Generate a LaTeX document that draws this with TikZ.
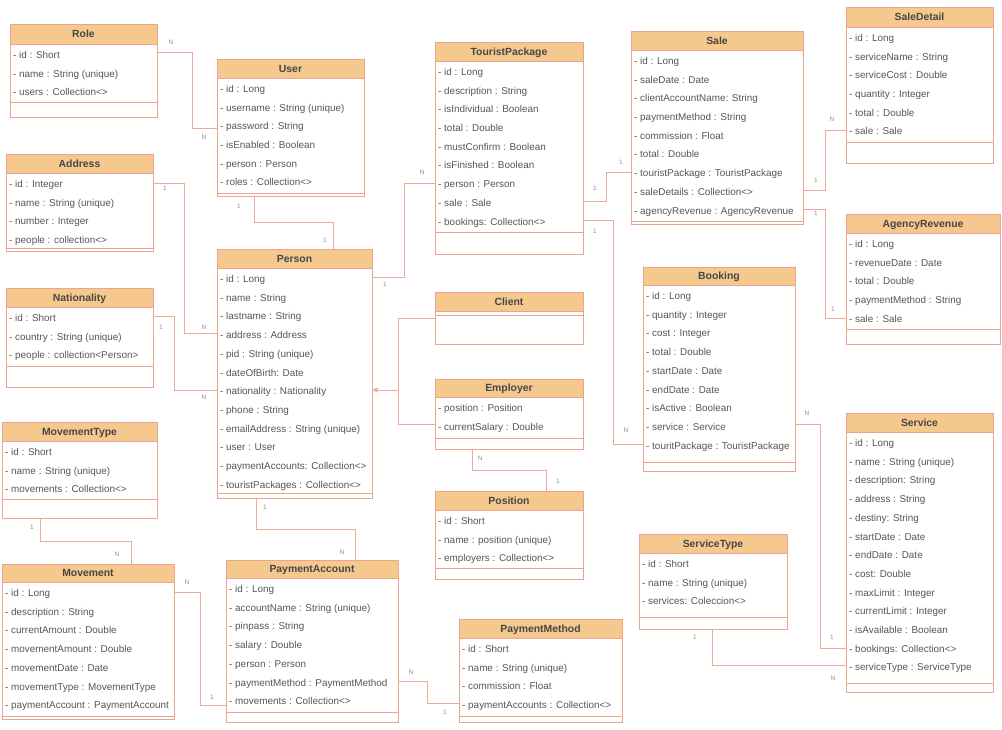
\documentclass[tikz,border=0pt]{standalone}
\usepackage{fontspec}
\setmainfont{Liberation Sans}
\usetikzlibrary{fit,arrows.meta}
\definecolor{hdr}{RGB}{245,201,142}
\definecolor{bord}{RGB}{236,164,144}
\definecolor{lnc}{RGB}{238,170,152}
\definecolor{txt}{RGB}{85,85,85}
\definecolor{ttl}{RGB}{70,70,70}
\definecolor{lbl}{RGB}{140,140,140}
\tikzset{
  row/.style={anchor=base west, inner sep=0pt, text=txt, font=\fontsize{9.9}{11}\selectfont},
  title/.style={anchor=base, inner sep=0pt, text=ttl, font=\fontsize{10.4}{12}\selectfont\bfseries},
  conn/.style={draw=lnc, line width=0.9pt},
  mult/.style={inner sep=0pt, text=lbl, font=\fontsize{6.5}{7}\selectfont},
}
\newcommand\umlhead[8]{%
  \fill[hdr] (#2,#3) rectangle (#4,#5);
  \node[fit={(#2,#3) (#4,#7)}, inner sep=0pt, draw=bord, line width=0.9pt] (#1) {};
  \draw[bord, line width=0.9pt] (#2,#5) -- (#4,#5) (#2,#6) -- (#4,#6);
  \node[title] (#1-t) at ({(#2+#4)/2},{(#3+#5)/2+3.8}) {#8};
}
\newcommand\umlclass[9]{%
  \umlhead{#1}{#2}{#3}{#4}{#5}{#6}{#7}{#8}
  \foreach \r [count=\i] in {#9} {\node[row] (#1-r\i) at ({#2+3},{#5+14.5+(\i-1)*18.7}) {\r};}
}
\begin{document}
\begin{tikzpicture}[x=1pt,y=-1pt]
\useasboundingbox (0,0) rectangle (1002,730);
\umlclass{role}{10}{24}{157}{44}{102}{117}{Role}{- id : Short, - name : String (unique), - users : Collection<>}
\umlclass{user}{217}{59}{364}{78}{193}{196}{User}{- id : Long, - username : String (unique), - password : String, - isEnabled : Boolean, - person : Person, - roles : Collection<>}
\umlclass{address}{6}{154}{153}{173}{248}{251}{Address}{- id : Integer, - name : String (unique), - number : Integer, - people : collection<>}
\umlclass{nationality}{6}{288}{153}{307}{366}{387}{Nationality}{- id : Short, - country : String (unique), - people : collection<Person>}
\umlclass{movementtype}{2}{422}{157}{441}{499}{518}{MovementType}{- id : Short, - name : String (unique), - movements : Collection<>}
\umlclass{movement}{2}{564}{174}{582}{716}{719}{Movement}{- id : Long, - description : String, - currentAmount : Double, - movementAmount : Double, - movementDate : Date, - movementType : MovementType, - paymentAccount : PaymentAccount}
\umlclass{person}{217}{249}{372}{268}{493}{498}{Person}{- id : Long, - name : String, - lastname : String, - address : Address, - pid : String (unique), - dateOfBirth: Date, - nationality : Nationality, - phone : String, - emailAddress : String (unique), - user : User, - paymentAccounts: Collection<>, - touristPackages : Collection<>}
\umlclass{pa}{226}{560}{398}{578}{712}{722}{PaymentAccount}{- id : Long, - accountName : String (unique), - pinpass : String, - salary : Double, - person : Person, - paymentMethod : PaymentMethod, - movements : Collection<>}
\umlclass{tp}{435}{42}{583}{61}{232}{254}{TouristPackage}{- id : Long, - description : String, - isIndividual : Boolean, - total : Double, - mustConfirm : Boolean, - isFinished : Boolean, - person : Person, - sale : Sale, - bookings: Collection<>}
\umlclass{sale}{631}{31}{803}{50}{221}{224}{Sale}{- id : Long, - saleDate : Date, - clientAccountName: String, - paymentMethod : String, - commission : Float, - total : Double, - touristPackage : TouristPackage, - saleDetails : Collection<>, - agencyRevenue : AgencyRevenue}
\umlclass{saledetail}{846}{7}{993}{27}{142}{163}{SaleDetail}{- id : Long, - serviceName : String, - serviceCost : Double, - quantity : Integer, - total : Double, - sale : Sale}
\umlclass{agency}{846}{214}{1000}{233}{329}{344}{AgencyRevenue}{- id : Long, - revenueDate : Date, - total : Double, - paymentMethod : String, - sale : Sale}
\umlhead{client}{435}{292}{583}{311}{315}{344}{Client}
\umlclass{employer}{435}{379}{583}{397}{438}{449}{Employer}{- position : Position, - currentSalary : Double}
\umlclass{booking}{643}{267}{795}{285}{462}{471}{Booking}{- id : Long, - quantity : Integer, - cost : Integer, - total : Double, - startDate : Date, - endDate : Date, - isActive : Boolean, - service : Service, - touritPackage : TouristPackage}
\umlclass{position}{435}{491}{583}{510}{568}{579}{Position}{- id : Short, - name : position (unique), - employers : Collection<>}
\umlclass{servicetype}{639}{534}{787}{553}{617}{629}{ServiceType}{- id : Short, - name : String (unique), - services: Coleccion<>}
\umlclass{pm}{459}{619}{622}{638}{716}{722}{PaymentMethod}{- id : Short, - name : String (unique), - commission : Float, - paymentAccounts : Collection<>}
\umlclass{service}{846}{413}{993}{432}{683}{692}{Service}{- id : Long, - name : String (unique), - description: String, - address : String, - destiny: String, - startDate : Date, - endDate : Date, - cost: Double, - maxLimit : Integer, - currentLimit : Integer, - isAvailable : Boolean, - bookings: Collection<>, - serviceType : ServiceType}

% connectors
\draw[conn] (role.east |- 0,52) -| (192,128) -- (user.west |- 0,128);
\draw[conn] (user.south -| 254,0) |- (333,222) -- (person.north -| 333,0);
\draw[conn] (address.east |- 0,183) -| (184,333) -- (person.west |- 0,333);
\draw[conn] (nationality.east |- 0,316) -| (174,390) -- (person.west |- 0,390);
\draw[conn] (person.east |- 0,277) -| (404,183) -- (tp.west |- 0,183);
\draw[conn] (client.west |- 0,318) -| (398,424) -- (employer.west |- 0,424);
\coordinate (gen) at (398,390);
\draw[conn,-{Triangle[length=5pt,width=5pt]}] (gen) -- (person.east |- gen);
\draw[conn] (tp.east |- 0,201) -| (606,172) -- (sale.west |- 0,172);
\draw[conn] (tp.east |- 0,220) -| (613,444) -- (booking.west |- 0,444);
\draw[conn] (sale.east |- 0,190) -| (825,130) -- (saledetail.west |- 0,130);
\draw[conn] (sale.east |- 0,209) -| (825,318) -- (agency.west |- 0,318);
\draw[conn] (booking.east |- 0,424) -| (820,648) -- (service.west |- 0,648);
\draw[conn] (servicetype.south -| 712,0) |- (service.west |- 0,665);
\draw[conn] (employer.south -| 472,0) |- (546,470) -- (position.north -| 546,0);
\draw[conn] (person.south -| 256,0) |- (355,529) -- (pa.north -| 355,0);
\draw[conn] (movementtype.south -| 40,0) |- (131,541) -- (movement.north -| 131,0);
\draw[conn] (movement.east |- 0,592) -| (200,705) -- (pa.west |- 0,705);
\draw[conn] (pa.east |- 0,681) -| (427,703) -- (pm.west |- 0,703);

% multiplicities
\node[mult] (m1) at (171,42) {N};
\node[mult] (m2) at (204,137) {N};
\node[mult] (m3) at (239,206) {1};
\node[mult] (m4) at (325,240) {1};
\node[mult] (m5) at (165,188) {1};
\node[mult] (m6) at (204,327) {N};
\node[mult] (m7) at (161,327) {1};
\node[mult] (m8) at (204,397) {N};
\node[mult] (m9) at (385,284) {1};
\node[mult] (m10) at (422,172) {N};
\node[mult] (m11) at (595,188) {1};
\node[mult] (m12) at (621,162) {1};
\node[mult] (m13) at (595,231) {1};
\node[mult] (m14) at (626,430) {N};
\node[mult] (m15) at (816,180) {1};
\node[mult] (m16) at (832,119) {N};
\node[mult] (m17) at (816,213) {1};
\node[mult] (m18) at (833,309) {1};
\node[mult] (m19) at (807,413) {N};
\node[mult] (m20) at (832,637) {1};
\node[mult] (m21) at (695,637) {1};
\node[mult] (m22) at (833,678) {N};
\node[mult] (m23) at (480,458) {N};
\node[mult] (m24) at (558,481) {1};
\node[mult] (m25) at (265,507) {1};
\node[mult] (m26) at (342,552) {N};
\node[mult] (m27) at (32,527) {1};
\node[mult] (m28) at (117,554) {N};
\node[mult] (m29) at (187,582) {N};
\node[mult] (m30) at (212,697) {1};
\node[mult] (m31) at (411,672) {N};
\node[mult] (m32) at (445,712) {1};
\end{tikzpicture}
\end{document}
